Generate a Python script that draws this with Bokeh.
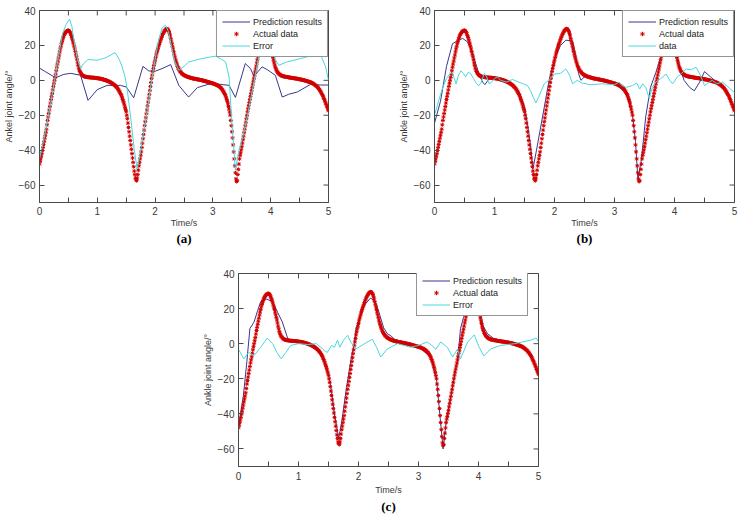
from bokeh.plotting import figure
from bokeh.models import FixedTicker, Legend, LegendItem, Title, Spacer, Range1d
from bokeh.layouts import row, column
from bokeh.embed import file_html
from bokeh.resources import INLINE

X_TICKS = [0, 1, 2, 3, 4, 5]
X_MINOR = [0.5, 1.5, 2.5, 3.5, 4.5]
Y_TICKS = [-60, -40, -20, 0, 20, 40]
X_RANGE = (0, 5)
Y_RANGE = (-70, 40)

# Actual data, sampled every 0.01 s (one row = 0.1 s)
ACT_T = [round(0.01 * i, 2) for i in range(501)]
ACT_V = [
    -48, -46.5, -45, -43.5, -42, -40.2, -38.5, -36.8, -35, -33.2,
    -31.5, -29.8, -28, -25.5, -23, -21, -19, -17, -15, -13,
    -11, -9.2, -7.5, -5.5, -3.5, -1.7, 0, 1.7, 3.5, 5.5,
    7.5, 9.3, 11, 12.8, 14.5, 16.3, 18, 19.5, 21, 22.3,
    23.5, 24.6, 25.5, 26.2, 26.8, 27.3, 27.8, 28.1, 28.4, 28.5,
    28.6, 28.4, 28, 27.3, 26.5, 25.6, 24.5, 23.3, 22, 20.8,
    19.5, 18, 16.5, 15, 13.5, 11.8, 10, 8.5, 7, 5.9,
    5, 4.3, 3.8, 3.4, 3, 2.7, 2.5, 2.3, 2.2, 2.1,
    2, 1.95, 1.9, 1.85, 1.8, 1.75, 1.7, 1.65, 1.6, 1.6,
    1.6, 1.55, 1.5, 1.5, 1.5, 1.45, 1.4, 1.35, 1.3, 1.25,
    1.2, 1.15, 1.1, 1.05, 1.0, 0.95, 0.9, 0.8, 0.7, 0.6,
    0.5, 0.4, 0.3, 0.2, 0.1, 0, -0.1, -0.25, -0.4, -0.55,
    -0.7, -0.85, -1.0, -1.2, -1.4, -1.6, -1.8, -2.05, -2.3, -2.55,
    -2.8, -3.1, -3.4, -3.8, -4.2, -4.6, -5.0, -5.6, -6.2, -6.8,
    -7.5, -8.2, -9, -10, -11, -12, -13, -14.2, -15.5, -16.7,
    -18, -20, -22, -24.5, -27, -29.5, -32, -34.5, -37, -39.5,
    -42, -44.5, -47, -49.5, -52, -54, -56, -57, -57.5, -56,
    -54, -51.5, -49, -47, -45, -43, -41, -38.5, -36, -33.5,
    -31, -28.5, -26, -23.7, -21.5, -19.2, -17, -14.7, -12.5, -10.2,
    -8, -5.7, -3.5, -1.2, 1, 3, 5, 6.8, 8.5, 10,
    11.5, 13, 14.5, 15.8, 17, 18.3, 19.5, 20.5, 21.5, 22.5,
    23.5, 24.4, 25.3, 26.2, 27, 27.6, 28.2, 28.6, 29, 29.3,
    29.5, 29.4, 29.2, 28.7, 28, 26.8, 25.5, 24, 22.5, 21,
    19.5, 18, 16.5, 15, 13.5, 12.2, 11, 9.9, 8.8, 7.9,
    7, 6.4, 5.8, 5.3, 4.8, 4.4, 4, 3.7, 3.4, 3.2,
    3, 2.8, 2.6, 2.45, 2.3, 2.15, 2.0, 1.9, 1.8, 1.7,
    1.6, 1.5, 1.4, 1.3, 1.2, 1.1, 1.0, 0.95, 0.9, 0.85,
    0.8, 0.7, 0.6, 0.55, 0.5, 0.45, 0.4, 0.3, 0.2, 0.15,
    0.1, 0, -0.1, -0.15, -0.2, -0.3, -0.4, -0.5, -0.6, -0.7,
    -0.8, -0.9, -1.0, -1.1, -1.2, -1.3, -1.4, -1.5, -1.6, -1.7,
    -1.8, -1.9, -2.0, -2.15, -2.3, -2.45, -2.6, -2.75, -2.9, -3.1,
    -3.3, -3.55, -3.8, -4.1, -4.4, -4.8, -5.2, -5.7, -6.2, -6.8,
    -7.5, -8.2, -9, -10, -11, -12.2, -13.5, -15, -16.5, -18.2,
    -20, -23, -26, -29.5, -33, -37, -41, -45, -49, -53,
    -56.5, -58, -57.5, -54, -51, -48, -45, -43, -41.5, -39.8,
    -38, -36, -34, -32, -30, -28, -26, -24, -22, -20,
    -18, -16.2, -14.5, -12.7, -11, -9.2, -7.5, -5.7, -4, -2.2,
    -0.5, 1.2, 3, 4.8, 6.5, 8.2, 10, 11.8, 13.5, 15.3,
    17, 18.5, 20, 21.3, 22.5, 23.5, 24.5, 25.3, 26, 26.5,
    27, 27.2, 27.3, 27.1, 26.8, 26.2, 25.5, 24.3, 23, 21.5,
    20, 18.3, 16.5, 14.7, 13, 11.5, 10, 8.7, 7.5, 6.6,
    5.8, 5.2, 4.6, 4.2, 3.8, 3.5, 3.2, 3.0, 2.8, 2.65,
    2.5, 2.4, 2.3, 2.2, 2.1, 2.05, 2.0, 1.95, 1.9, 1.85,
    1.8, 1.7, 1.6, 1.55, 1.5, 1.45, 1.4, 1.35, 1.3, 1.25,
    1.2, 1.15, 1.1, 1.05, 1.0, 0.95, 0.9, 0.8, 0.7, 0.65,
    0.6, 0.55, 0.5, 0.4, 0.3, 0.25, 0.2, 0.1, 0.0, -0.1,
    -0.2, -0.3, -0.4, -0.5, -0.6, -0.7, -0.8, -0.9, -1.0, -1.15,
    -1.3, -1.45, -1.6, -1.8, -2.0, -2.25, -2.5, -2.75, -3.0, -3.3,
    -3.6, -3.95, -4.3, -4.75, -5.2, -5.7, -6.2, -6.8, -7.4, -8.1,
    -8.8, -9.5, -10.3, -11.1, -12, -12.9, -13.8, -14.7, -15.6, -16.5,
    -17.5,
]

# (a)
PRED_A_T = [0, 0.1, 0.2, 0.28, 0.42, 0.54, 0.71, 0.84, 1.0, 1.17, 1.4, 1.5, 1.63, 1.79, 1.89, 2.0, 2.12,
            2.27, 2.41, 2.58, 2.73, 2.96, 3.13, 3.28, 3.39, 3.56, 3.65, 3.71, 3.85, 3.94, 4.08, 4.2,
            4.31, 4.46, 4.69, 4.86, 5.0]
PRED_A_V = [7, 5, 3, 1.5, 3.4, 4.0, 2.9, -11.5, -5.3, -2.9, -2.9, -3.8, -10, 8, 5.4, 5.2, 6.7,
            9, -2.9, -9.6, -4.2, -1.9, -2.3, -2.9, -9.8, 9.6, 6.7, 2.3, 7.7, 6.1, 2.9, -9.6,
            -8, -6.7, -2.3, -2.7, -2.7]
ERR_A_T = [0, 0.1, 0.2, 0.26, 0.33, 0.4, 0.46, 0.52, 0.56, 0.6, 0.65, 0.71, 0.76, 0.84, 1.0, 1.15,
           1.31, 1.38, 1.43, 1.48, 1.52, 1.58, 1.64, 1.69, 1.74, 1.8, 1.87, 1.94, 2.0, 2.06, 2.12,
           2.18, 2.23, 2.28, 2.34, 2.41, 2.5, 2.58, 2.75, 2.96, 3.05, 3.15, 3.22, 3.28, 3.33, 3.39,
           3.45, 3.52, 3.6, 3.68, 3.75, 3.82, 3.9, 4.0, 4.08, 4.14, 4.28, 4.52, 4.78, 4.86, 4.95, 5.0]
ERR_A_V = [-45, -30, -12, 0, 14, 27, 32, 35, 31, 22, 13, 6.7, 9.5, 11.9, 11.5, 13,
           15.9, 12, 7.7, 2, -5.7, -22, -40, -50.8, -42, -30, -16, 0, 12, 23, 30,
           31.6, 28, 20, 11, 5.7, 8, 10.5, 12, 13.4, 13.8, 12, 10.5, 1.9, -25, -51.5,
           -40, -32, -20, -6, 6, 18, 27, 25, 12, 8.6, 10.5, 12.5, 14.8, 15, 7.7, 0]

# (b)
PRED_B_T = [0, 0.1, 0.2, 0.3, 0.4, 0.47, 0.55, 0.63, 0.7, 0.75, 0.8, 0.84, 0.9, 1.0, 1.2, 1.4, 1.5,
            1.55, 1.6, 1.64, 1.7, 1.8, 1.91, 2.0, 2.1, 2.19, 2.3, 2.35, 2.4, 2.44, 2.5, 2.7, 3.0,
            3.2, 3.3, 3.35, 3.39, 3.45, 3.52, 3.6, 3.69, 3.76, 3.85, 4.0, 4.1, 4.16, 4.25, 4.33,
            4.42, 4.5, 4.6, 4.7, 4.8, 4.9, 5.0]
PRED_B_V = [-24.5, -12, 8, 21, 23, 24, 22, 16, 8, 3, -1, -2.5, 0.5, 1.5, 0, -6, -15,
            -25, -37, -51, -40, -21, 0, 12, 20, 23, 22.5, 15, 4, 0, 2, 0.8, -1.8,
            -7.5, -20, -35, -57, -45, -21, -4, 4.6, 12, 22, 20, 6, 0, -4, -6,
            -1, 5, 2, -1, -3.6, -8.8, -17]
ERR_B_T = [0, 0.05, 0.1, 0.15, 0.2, 0.25, 0.3, 0.33, 0.36, 0.4, 0.44, 0.48, 0.52, 0.56, 0.6, 0.65,
           0.7, 0.74, 0.78, 0.83, 0.87, 0.91, 0.95, 1.0, 1.05, 1.1, 1.2, 1.3, 1.4, 1.48, 1.55, 1.6,
           1.65, 1.69, 1.73, 1.78, 1.83, 1.9, 2.0, 2.1, 2.19, 2.25, 2.3, 2.38, 2.45, 2.6, 2.8, 3.0,
           3.08, 3.12, 3.2, 3.3, 3.37, 3.42, 3.47, 3.52, 3.58, 3.63, 3.69, 3.77, 3.86, 3.92, 3.97,
           4.05, 4.12, 4.19, 4.28, 4.36, 4.43, 4.5, 4.58, 4.63, 4.7, 4.8, 4.9, 5.0]
ERR_B_V = [-20, -14, -8, -3, 1, 3.5, 4.5, 1, -2, 3, 5.5, 4, 2, 4.5, 4, 1,
           -2, -3, -1, 4, 2, -2, -1, 1, 2, 0, -1, 0.5, -1, -2, -3, -6,
           -10, -13, -10, -6, -2, 0, 3.6, 4, 6.5, 3, -2, 0, -1.5, -2.5, -2, -2.5,
           -1, -3, -4, -3, -1.5, -5, -2, -4, -10.5, -4, -1, 1, 3.6, 0, -2,
           2, 4, 6.5, 6, 7.5, 3, -3, -1, 0, -2, -1, -4, -7]

# (c)
PRED_C_T = [0, 0.08, 0.14, 0.19, 0.26, 0.32, 0.37, 0.46, 0.57, 0.65, 0.73, 0.82, 0.88, 1.0, 1.2, 1.4,
            1.5, 1.55, 1.6, 1.67, 1.72, 1.8, 1.88, 1.93, 1.96, 2.05, 2.1, 2.2, 2.28, 2.34, 2.42,
            2.48, 2.54, 2.6, 2.8, 3.0, 3.2, 3.3, 3.36, 3.41, 3.46, 3.55, 3.62, 3.65, 3.7, 3.75,
            3.85, 4.0, 4.08, 4.15, 4.25, 4.5, 4.8, 4.9, 5.0]
PRED_C_V = [-48, -30, -10, 8.6, 12.4, 19, 24, 25.5, 24, 18, 12.4, 3, 1.8, 1.3, -0.5, -7,
            -17, -27, -40, -54, -45, -25, -8, 0, 8.6, 18, 22, 26, 24, 18, 9,
            5.7, 4.5, 2.5, 0.5, -1.8, -7.5, -20, -42, -60, -45, -28, -14, -10.5, 8.6, 15,
            24, 22, 10, 5.7, 3, 0.5, -3.5, -8, -18]
ERR_C_T = [0, 0.09, 0.17, 0.26, 0.37, 0.48, 0.57, 0.64, 0.71, 0.79, 0.87, 1.0, 1.15, 1.3, 1.43,
           1.48, 1.55, 1.6, 1.65, 1.69, 1.75, 1.82, 1.87, 1.96, 2.1, 2.23, 2.3, 2.37, 2.48, 2.65,
           2.87, 3.0, 3.15, 3.22, 3.29, 3.37, 3.48, 3.57, 3.65, 3.7, 3.82, 3.93, 4.01, 4.09, 4.2,
           4.37, 4.6, 4.87, 4.96, 5.0]
ERR_C_V = [-3.2, -8.6, -5, -6.7, -2, 3.2, 0, -5, -8.6, -5, -1, 0, -0.5, 0, -3.8,
           -5, -1, -2, 2, -2, 2, 4.8, 1, -3, 0, 2.5, -2, -7.6, -3, 0,
           -2, -1, 1, -1, -3.2, 1, -2, -7.6, -3, -8.6, 1, 5, -2, -7, -3,
           -1, 0, 2, 3.2, 1]

LEGEND_LABELS_A = ["Prediction results", "Actual data", "Error"]
LEGEND_LABELS_B = ["Prediction results", "Actual data", "data"]
LEGEND_LABELS_C = ["Prediction results", "Actual data", "Error"]

NAVY = "#38388f"
CYAN = "#48d8dc"
RED = "#d20000"
AX = "#4a4a4a"
TXT = "#3a3a3a"
FONT = "Liberation Sans"
TICK_LEN = 5  # px


def style_axis(ax, minor=False, standoff=4, label_standoff=2):
    ax.axis_line_color = AX
    ax.major_tick_in = TICK_LEN
    ax.major_tick_out = 0
    ax.major_tick_line_color = AX
    if minor:
        ax.minor_tick_in = TICK_LEN
        ax.minor_tick_out = 0
        ax.minor_tick_line_color = AX
    else:
        ax.minor_tick_line_color = None
    ax.major_label_text_font = FONT
    ax.major_label_text_font_size = "10px"
    ax.major_label_text_color = TXT
    ax.major_label_standoff = standoff
    ax.axis_label_text_font = FONT
    ax.axis_label_text_font_size = "9px"
    ax.axis_label_text_font_style = "normal"
    ax.axis_label_text_color = TXT
    ax.axis_label_standoff = label_standoff


def panel(fw, fh, borders, ylabel, pred_t, pred_v, err_t, err_v, labels, caption,
          legend_loc, cap_standoff, xstandoff=4, xlabel_standoff=2):
    bl, br, bt, bb = borders
    p = figure(frame_width=fw, frame_height=fh,
               x_range=Range1d(*X_RANGE), y_range=Range1d(*Y_RANGE),
               output_backend="svg", toolbar_location=None, title_location=None,
               min_border_left=bl, min_border_right=br, min_border_top=bt, min_border_bottom=bb,
               background_fill_color="white", border_fill_color="white")
    p.grid.visible = False
    p.outline_line_color = AX
    p.xaxis.ticker = FixedTicker(ticks=X_TICKS, minor_ticks=X_MINOR)
    p.yaxis.ticker = FixedTicker(ticks=Y_TICKS)
    style_axis(p.xaxis[0], True, xstandoff, xlabel_standoff)
    style_axis(p.yaxis[0], False, 4, 2)
    p.xaxis.axis_label = "Time/s"
    p.yaxis.axis_label = ylabel

    # inward tick marks on the top and right edges (MATLAB "box on" style)
    x_len = TICK_LEN * (Y_RANGE[1] - Y_RANGE[0]) / fh
    y_len = TICK_LEN * (X_RANGE[1] - X_RANGE[0]) / fw
    top_x = X_TICKS + X_MINOR
    p.segment(x0=top_x, y0=[Y_RANGE[1]] * len(top_x), x1=top_x,
              y1=[Y_RANGE[1] - x_len] * len(top_x), line_color=AX, line_width=1)
    p.segment(x0=[X_RANGE[1]] * len(Y_TICKS), y0=Y_TICKS,
              x1=[X_RANGE[1] - y_len] * len(Y_TICKS), y1=Y_TICKS, line_color=AX, line_width=1)

    r1 = p.line(pred_t, pred_v, line_color=NAVY, line_width=1)
    r2 = p.scatter(ACT_T, ACT_V, marker="asterisk", size=4, line_color=RED, line_width=1)
    r3 = p.line(err_t, err_v, line_color=CYAN, line_width=1)
    leg = Legend(items=[LegendItem(label=labels[0], renderers=[r1]),
                        LegendItem(label=labels[1], renderers=[r2]),
                        LegendItem(label=labels[2], renderers=[r3])],
                 location=legend_loc, margin=0, padding=5, spacing=1,
                 glyph_width=28, glyph_height=11, label_height=11, label_standoff=3,
                 label_text_font=FONT, label_text_font_size="9px", label_text_color="#1a1a1a",
                 border_line_color="#2a2a2a", border_line_width=1,
                 background_fill_color="white", background_fill_alpha=1.0)
    p.add_layout(leg)
    cap = Title(text=caption, align="center", text_font="Liberation Serif",
                text_font_size="13px", text_font_style="bold", text_color="black",
                standoff=cap_standoff)
    p.add_layout(cap, "below")
    return p


pa = panel(289, 192, (39, 67, 10, 63), "Ankel joint angle/°", PRED_A_T, PRED_A_V, ERR_A_T, ERR_A_V,
           LEGEND_LABELS_A, "(a)", "top_right", -4, xstandoff=4, xlabel_standoff=0)
pb = panel(300, 192, (39, 8, 10, 63), "Ankle joint angle/°", PRED_B_T, PRED_B_V, ERR_B_T, ERR_B_V,
           LEGEND_LABELS_B, "(b)", "top_right", -4, xstandoff=4, xlabel_standoff=0)
pc = panel(300, 193, (39, 10, 8, 55), "Ankle joint angle/°", PRED_C_T, PRED_C_V, ERR_C_T, ERR_C_V,
           LEGEND_LABELS_C, "(c)", (178, 150), -2, xstandoff=5, xlabel_standoff=2)

layout = column(row(pa, pb), row(Spacer(width=199, height=256), pc))

open("out.html", "w").write(file_html(layout, INLINE))
